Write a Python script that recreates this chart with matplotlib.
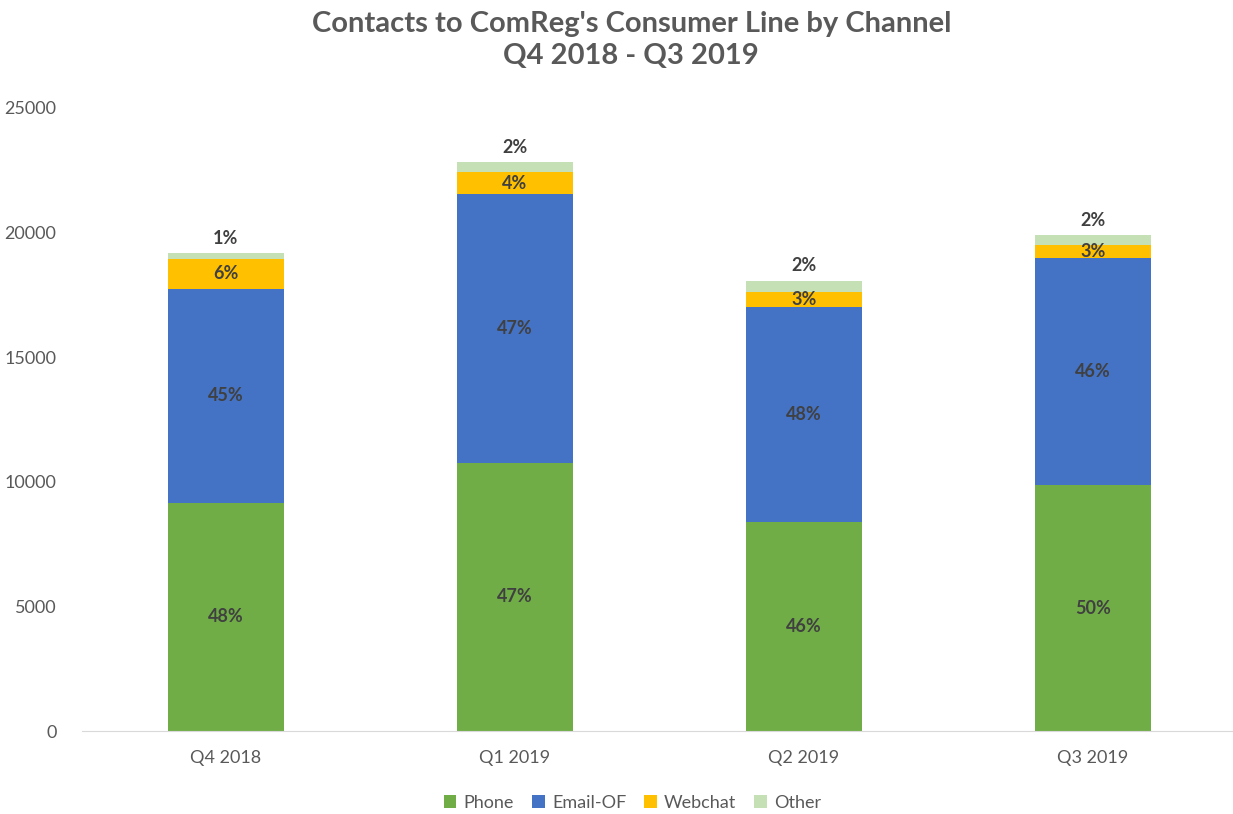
import matplotlib
matplotlib.use("Agg")
import matplotlib.pyplot as plt
import numpy as np

plt.rcParams['font.family'] = ['Lato', 'DejaVu Sans']

quarters = ["Q4 2018", "Q1 2019", "Q2 2019", "Q3 2019"]
phone = [9150, 10755, 8390, 9870]
email = [8590, 10795, 8625, 9110]
webchat = [1200, 880, 620, 520]
other = [240, 400, 440, 400]

series = [("Phone", phone, "#70AD47"),
          ("Email-OF", email, "#4472C4"),
          ("Webchat", webchat, "#FFC000"),
          ("Other", other, "#C5E0B4")]

txt = "#404040"
grey = "#595959"

fig = plt.figure(figsize=(12.33, 8.14), dpi=100)
ax = fig.add_axes([81.5 / 1233, 83 / 814, 1156 / 1233, 623 / 814])

x = np.arange(len(quarters))
totals = np.sum([phone, email, webchat, other], axis=0)
bottom = np.zeros(len(quarters))
for name, vals, col in series:
    vals = np.array(vals, dtype=float)
    ax.bar(x, vals, 0.4, bottom=bottom, color=col, label=name)
    for i in range(len(x)):
        pct = "%d%%" % round(vals[i] / totals[i] * 100)
        if name == "Other":
            ax.text(x[i], bottom[i] + vals[i] + 250, pct, ha="center", va="bottom",
                    fontsize=13, fontweight="bold", color=txt)
        else:
            ax.text(x[i], bottom[i] + vals[i] / 2, pct, ha="center", va="center",
                    fontsize=13, fontweight="bold", color=txt)
    bottom += vals

ax.set_xlim(-0.5, 3.5)
ax.set_ylim(0, 25000)
ax.set_yticks(range(0, 25001, 5000))
ax.set_xticks(x)
ax.set_xticklabels(quarters)
for s in ["top", "right", "left"]:
    ax.spines[s].set_visible(False)
ax.spines["bottom"].set_color("#D9D9D9")
ax.tick_params(axis="both", length=0, labelsize=13, labelcolor=grey)
ax.tick_params(axis="x", pad=14)
ax.tick_params(axis="y", pad=18)

fig.text(0.512, 0.951, "Contacts to ComReg's Consumer Line by Channel\nQ4 2018 - Q3 2019",
         ha="center", va="center", fontsize=21, fontweight="bold", color=grey,
         linespacing=1.25)

fig.legend(loc="center", bbox_to_anchor=(0.513, 0.014), ncol=4, frameon=False,
           fontsize=13, labelcolor=grey, handlelength=0.7, handleheight=0.7,
           handletextpad=0.4, columnspacing=1.0)

fig.savefig("out.png", dpi=100)
